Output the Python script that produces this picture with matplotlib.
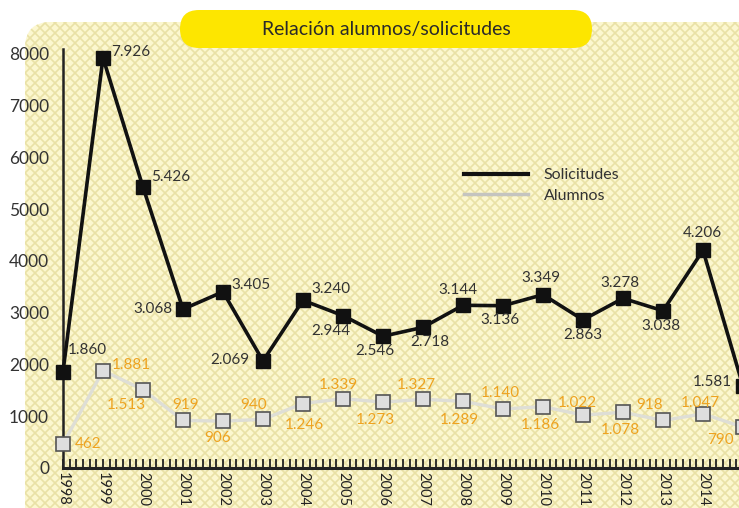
#!/usr/bin/env python3
"""Relacion alumnos/solicitudes - line chart with label callouts"""
import matplotlib
matplotlib.use('Agg')
import matplotlib.pyplot as plt
from matplotlib.patches import FancyBboxPatch
from matplotlib.collections import LineCollection
from matplotlib.lines import Line2D
from matplotlib.ticker import MultipleLocator
from matplotlib.transforms import IdentityTransform

plt.rcParams['font.family'] = ['Lato', 'DejaVu Sans']

years = list(range(1998, 2016))
solicitudes = [1860, 7926, 5426, 3068, 3405, 2069, 3240, 2944, 2546, 2718,
               3144, 3136, 3349, 2863, 3278, 3038, 4206, 1581]
alumnos = [462, 1881, 1513, 919, 906, 940, 1246, 1339, 1273, 1327,
           1289, 1140, 1186, 1022, 1078, 918, 1047, 790]
yticks = [0, 1000, 2000, 3000, 4000, 5000, 6000, 7000, 8000]
title = 'Relación alumnos/solicitudes'
series_names = ['Solicitudes', 'Alumnos']

# label offsets in pixels (dx, dy up) relative to each marker
sol_off = [(24, 22), (28, 6), (28, 10), (-30, 0), (28, 7), (-33, 1), (28, 11),
           (-12, -15), (-8, -15), (7, -15), (-5, 15), (-3, -14), (-2, 17),
           (0, -15), (-3, 15), (-2, -15), (-1, 17), (-31, 4)]
alu_off = [(25, 0), (28, 6), (-17, -15), (3, 15), (-5, -17), (-9, 14), (1, -21),
           (-5, 14), (-8, -18), (-7, 14), (-4, -19), (-3, 16), (-3, -18),
           (-6, 12), (-3, -18), (-13, 15), (-3, 11), (-23, -13)]

W, H = 739, 508
fig = plt.figure(figsize=(W/100, H/100), dpi=100)
fig.patch.set_facecolor('white')

# panel background with cross hatch (behind the axes)
bg = FancyBboxPatch((25, -40), 760, H - 22 + 40, boxstyle='round,pad=0,rounding_size=26',
                    transform=IdentityTransform(), facecolor='#fcf7cf', edgecolor='none', zorder=-2)
fig.add_artist(bg)
segs = []
for c in range(-700, 800, 10):
    segs.append([(c, 0), (c + 700, 700)])
    segs.append([(c + 700, 0), (c, 700)])
lc = LineCollection(segs, colors='#e9e1a6', linewidths=1.2, transform=IdentityTransform(), zorder=-1)
lc.set_clip_path(bg)
fig.add_artist(lc)

# title pill
pill = FancyBboxPatch((180, H - 48), 412, 38, boxstyle='round,pad=0,rounding_size=19',
                      transform=IdentityTransform(), facecolor='#fde600', edgecolor='none', zorder=1)
fig.add_artist(pill)
fig.text(386/W, 1 - 29/H, title, ha='center', va='center', fontsize=14, color='#2a2a2a', zorder=2)

ax = fig.add_axes([63/W, 40/H, 720/W, 419.2/H])
ax.set_facecolor('none')
ax.set_xlim(1998, 2016)
ax.set_ylim(0, 8100)

ax.plot(years, alumnos, color='#dedeD6', lw=2.4, zorder=3, clip_on=False)
ax.plot(years, alumnos, ls='none', marker='s', ms=10, mfc='#dedede', mec='#555555',
        mew=1.2, zorder=4, clip_on=False)
ax.plot(years, solicitudes, color='#111111', lw=2.6, marker='s', ms=9.5,
        mfc='#111111', mec='#111111', zorder=5, clip_on=False)

for x, v, (dx, dy) in zip(years, solicitudes, sol_off):
    ax.annotate(f'{v:,}'.replace(',', '.'), (x, v), xytext=(dx, dy), textcoords='offset pixels',
                ha='center', va='center', fontsize=11, color='#333333', zorder=6)
for x, v, (dx, dy) in zip(years, alumnos, alu_off):
    ax.annotate(f'{v:,}'.replace(',', '.'), (x, v), xytext=(dx, dy), textcoords='offset pixels',
                ha='center', va='center', fontsize=11, color='#eea320', zorder=6)

for s in ('top', 'right'):
    ax.spines[s].set_visible(False)
ax.spines['left'].set_color('#222222')
ax.spines['left'].set_linewidth(1.8)
ax.spines['bottom'].set_color('#222222')
ax.spines['bottom'].set_linewidth(2.2)

ax.set_yticks(yticks)
ax.set_yticklabels([str(t) for t in yticks])
ax.tick_params(axis='y', length=0, pad=10, labelsize=12.5, labelcolor='#333333')
ax.set_xticks(years)
ax.set_xticklabels([str(y) for y in years], rotation=270)
ax.xaxis.set_minor_locator(MultipleLocator(1/6))
ax.tick_params(axis='x', which='both', direction='in', length=6.5, width=1.3, color='#222222')
ax.tick_params(axis='x', which='major', pad=3, labelsize=10.5, labelcolor='#222222')

handles = [Line2D([], [], color='#111111', lw=3), Line2D([], [], color='#c4c4c0', lw=2.5)]
ax.legend(handles, series_names, loc='upper left', bbox_to_anchor=(464/W, 1 - 168/H),
          bbox_transform=fig.transFigure, frameon=False, borderpad=0, borderaxespad=0,
          handlelength=4.0, handletextpad=1.0, labelspacing=0.4, fontsize=11.5,
          labelcolor='#333333')

fig.savefig('out.png', dpi=100)
